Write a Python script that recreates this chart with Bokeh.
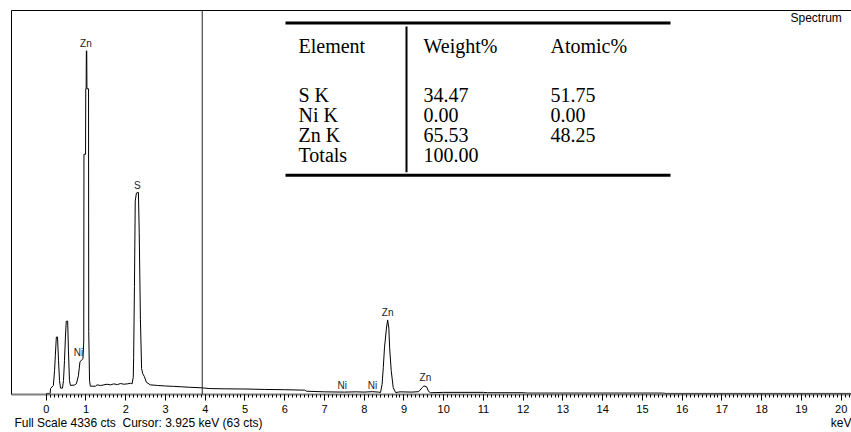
from bokeh.plotting import figure
from bokeh.models import Range1d, LinearAxis, FixedTicker, Span, Label
from bokeh.core.properties import value
from bokeh.embed import file_html
from bokeh.resources import INLINE

# ---------------- data ----------------
energy_kev = [0.00, 0.10, 0.11, 0.18, 0.21, 0.23, 0.255, 0.285, 0.31, 0.335, 0.36, 0.41,
              0.435, 0.46, 0.485, 0.505, 0.54, 0.56, 0.585, 0.61, 0.71, 0.76, 0.81, 0.85,
              0.925, 0.945, 0.95, 0.99, 0.995, 1.005, 1.01, 1.02, 1.025, 1.065, 1.07, 1.09,
              1.11, 1.24, 1.28, 1.37, 1.45, 1.53, 1.62, 1.70, 1.79, 1.87, 1.95, 2.04, 2.12,
              2.16, 2.19, 2.20, 2.22, 2.24, 2.27, 2.32, 2.34, 2.37, 2.40, 2.43, 2.47, 2.52,
              2.62, 2.80, 3.00, 3.20, 3.40, 3.60, 3.925, 4.10, 4.50, 5.00, 5.50, 6.00, 6.50,
              6.55, 7.00, 7.50, 7.80, 8.00, 8.20, 8.36, 8.41, 8.45, 8.48, 8.51, 8.56, 8.59,
              8.62, 8.64, 8.68, 8.73, 8.79, 8.90, 9.20, 9.37, 9.46, 9.50, 9.57, 9.62, 9.67,
              10.0, 11.0, 11.1, 12.0, 12.1, 15.5, 15.6, 20.5]
counts = [0, 0, 56, 90, 257, 425, 637, 637, 369, 145, 60, 60,
          145, 369, 648, 816, 816, 480, 145, 90, 95, 110, 200, 358,
          391, 592, 2700, 2700, 3440, 3440, 3868, 3868, 3440, 3440, 700, 150,
          82, 82, 97, 89, 97, 104, 97, 108, 100, 112, 104, 108, 115,
          108, 182, 405, 1207, 2174, 2263, 2270, 1821, 838, 279, 223, 190, 126,
          97, 90, 84, 80, 75, 70, 63, 55, 52, 50, 45, 42, 37,
          25, 18, 15, 18, 15, 20, 15, 10, 103, 290, 514, 738, 830,
          738, 514, 257, 66, 10, 18, 15, 20, 66, 85, 75, 22, 8,
          12, 12, 8, 8, 4, 4, 0, 0]

peak_labels = ["Zn", "S", "Ni", "Ni", "Ni", "Zn", "Zn"]
peak_label_kev = [1.00, 2.29, 0.81, 7.45, 8.21, 8.59, 9.54]
peak_label_cts = [3953, 2343, 458, 89, 89, 918, 178]

table_header = ["Element", "Weight%", "Atomic%"]
table_element = ["S K", "Ni K", "Zn K", "Totals"]
table_weight = ["34.47", "0.00", "65.53", "100.00"]
table_atomic = ["51.75", "0.00", "48.25", ""]

full_scale = 4336
cursor_kev = 3.925
cursor_cts = 63
axis_ticks = list(range(0, 21))
unit_label = "keV"

# ---------------- layout helpers ----------------
W, H = 851, 432
FL, FT, FB = 11, 10, 397
PX_PER_KEV = 39.75
X0 = 0 - (45.7 - FL) / PX_PER_KEV
X1 = X0 + (W - FL) / PX_PER_KEV
Y0 = -12
Y1 = Y0 + full_scale
CT_PER_PX = full_scale / (FB - FT)


def dx(px):
    return X0 + (px - FL) / PX_PER_KEV


def dy(py):
    return Y1 - (py - FT) * CT_PER_PX


p = figure(width=W, height=H, x_range=Range1d(X0, X1), y_range=Range1d(Y0, Y1),
           output_backend="svg", toolbar_location=None,
           x_axis_location=None, y_axis_location=None,
           min_border_left=FL, min_border_right=0, min_border_top=FT,
           min_border_bottom=H - FB, outline_line_color=None,
           background_fill_color="white", border_fill_color="white")
p.xgrid.visible = False
p.ygrid.visible = False

xaxis = LinearAxis(
    ticker=FixedTicker(ticks=axis_ticks, minor_ticks=[i / 10 for i in range(0, 203)]),
    axis_line_color="#808080", axis_line_width=2,
    major_tick_line_color="black", major_tick_out=6, major_tick_in=0,
    minor_tick_line_color="black", minor_tick_out=3, minor_tick_in=0,
    major_label_text_font="Liberation Sans", major_label_text_font_size="11px",
    major_label_text_color="black", major_label_standoff=4)
p.add_layout(xaxis, "below")

# footer row (status line + unit), drawn as a second bottom axis
footer_text = f"Full Scale {full_scale} cts\u00a0\u00a0Cursor: {cursor_kev:.3f} keV ({cursor_cts} cts)"
foot_pos = [round(dx(138), 4), round(dx(846), 4)]
foot_axis = LinearAxis(
    ticker=FixedTicker(ticks=foot_pos, minor_ticks=[]),
    axis_line_color=None, major_tick_out=0, major_tick_in=0,
    minor_tick_out=0, minor_tick_in=0,
    major_label_overrides={foot_pos[0]: footer_text, foot_pos[1]: unit_label},
    major_label_text_font="Liberation Sans", major_label_text_font_size="12px",
    major_label_text_color="black", major_label_standoff=0)
p.add_layout(foot_axis, "below")

for side in ("left", "above"):
    ax = LinearAxis(ticker=FixedTicker(ticks=[]), axis_line_color="black",
                    axis_line_width=1, major_tick_out=0, major_tick_in=0,
                    minor_tick_out=0, minor_tick_in=0,
                    major_label_text_font_size="0px")
    p.add_layout(ax, side)

# spectrum
p.line(energy_kev, counts, line_color="black", line_width=1)

# cursor
p.add_layout(Span(location=cursor_kev, dimension="height", line_color="#222222", line_width=1))

# peak labels
p.text(x=peak_label_kev, y=peak_label_cts, text=peak_labels,
       text_font=value("Liberation Sans"), text_font_size="10px",
       text_align="center", text_baseline="middle", text_color="#222222")

# table
p.segment(x0=[dx(285), dx(285)], y0=[dy(22.5), dy(176)],
          x1=[dx(670), dx(670)], y1=[dy(22.5), dy(176)],
          line_color="black", line_width=3)
p.segment(x0=[dx(406)], y0=[dy(26)], x1=[dx(406)], y1=[dy(173)],
          line_color="black", line_width=2)

tfont = value("Liberation Serif")
col_x = [298, 423, 550]
p.text(x=[dx(c) for c in col_x], y=[dy(46)] * 3, text=table_header,
       text_font=tfont, text_font_size="20px", text_align="left",
       text_baseline="alphabetic", text_color="black")
row_y = [dy(95), dy(115), dy(135), dy(156)]
for cx, col in zip(col_x, [table_element, table_weight, table_atomic]):
    p.text(x=[dx(cx)] * len(col), y=row_y, text=col,
           text_font=tfont, text_font_size="20px", text_align="left",
           text_baseline="alphabetic", text_color="black")

p.add_layout(Label(x=dx(790), y=dy(18), text="Spectrum", text_font="Liberation Sans",
                   text_font_size="12px", text_baseline="middle", text_align="left",
                   text_color="black"))

open("out.html", "w").write(file_html(p, INLINE))
